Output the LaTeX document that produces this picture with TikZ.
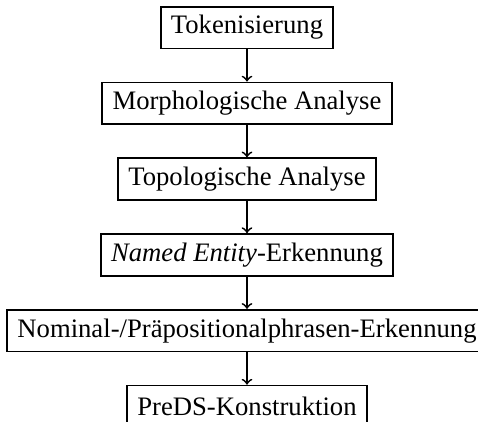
\documentclass[tikz,border=0pt]{standalone}
\usepackage{fontspec}
\setmainfont{Liberation Serif}
\usetikzlibrary{positioning}

\begin{document}
\begin{tikzpicture}[x=1pt, y=1pt, line width=0.8pt,
      stage/.style={draw, minimum height=18.8pt, inner xsep=4.6pt, inner ysep=0pt,
                    font=\fontsize{12}{14}\selectfont},
      arr/.style={->},
      node distance=14.5pt]

    % ---- Frame (right edge and bottom cut as in the original) ----
    \useasboundingbox (-111.15, 12.4) rectangle (103.95, -177.5);

    % ---- Pipeline stages ----
    \node[stage] (tok) at (0, 0) {Tokenisierung};
    \node[stage, below=of tok]   (morph) {Morphologische Analyse};
    \node[stage, below=of morph] (topo)  {Topologische Analyse};
    \node[stage, below=of topo]  (ner)   {\textit{Named Entity}-Erkennung};
    \node[stage, below=of ner]   (npp)   {Nominal-/Präpositionalphrasen-Erkennung};
    \node[stage, below=of npp]   (preds) {PreDS-Konstruktion};

    % ---- Arrows ----
    \draw[arr] (tok)   -- (morph);
    \draw[arr] (morph) -- (topo);
    \draw[arr] (topo)  -- (ner);
    \draw[arr] (ner)   -- (npp);
    \draw[arr] (npp)   -- (preds);

\end{tikzpicture}
\end{document}
